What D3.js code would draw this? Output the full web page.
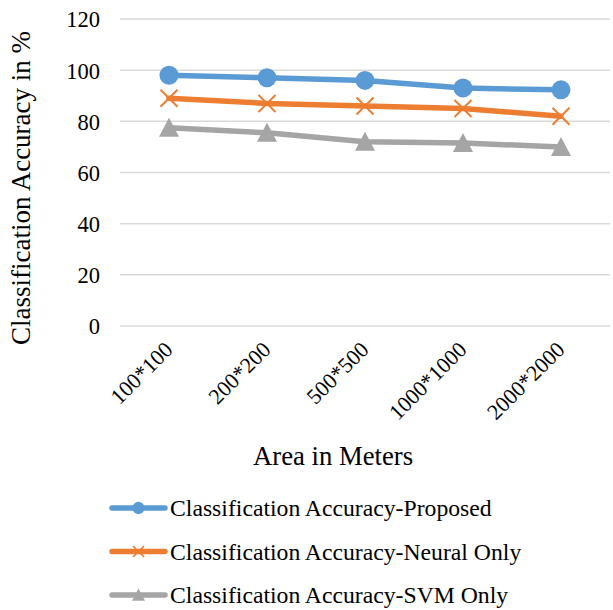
<!DOCTYPE html>
<html><head><meta charset="utf-8">
<script src="https://cdn.jsdelivr.net/npm/d3@7"></script>
<style>body{margin:0;background:#fff}svg{display:block}</style>
</head><body>
<svg id="c" width="613" height="610"></svg>
<script>
const categories = ["100*100","200*200","500*500","1000*1000","2000*2000"];
const proposed = [98, 97, 96, 93, 92.3];
const neural = [89, 87, 86, 85, 82];
const svm = [77.5, 75.5, 72, 71.5, 70];
const yTicks = [0,20,40,60,80,100,120];
const seriesNames = ["Classification Accuracy-Proposed","Classification Accuracy-Neural Only","Classification Accuracy-SVM Only"];
const colors = ["#5B9BD5","#ED7D31","#A5A5A5"];
const markers = ["circle","x","triangle"];
const FONT = '"Liberation Serif", "Times New Roman", serif';

const svg = d3.select("#c");
const x = d3.scaleBand().domain(categories).range([120, 610]);
const y = d3.scaleLinear().domain([0,120]).range([326, 19]);

// gridlines
svg.append("g").selectAll("line").data(yTicks).join("line")
  .attr("x1",120).attr("x2",610).attr("y1",d=>y(d)).attr("y2",d=>y(d))
  .attr("stroke","#D9D9D9").attr("stroke-width",1.5);

// y axis labels
const yAxis = d3.axisLeft(y).tickValues(yTicks).tickSize(0).tickPadding(0);
const yg = svg.append("g").attr("transform","translate(100,0)").call(yAxis);
yg.select(".domain").remove();
yg.selectAll("text").style("font-family",FONT).style("font-size","22.5px").attr("fill","#000").attr("dy","0.35em");

// x axis labels
const xAxis = d3.axisBottom(x).tickSize(0).tickPadding(0);
const xg = svg.append("g").attr("transform","translate(0,351)").call(xAxis);
xg.select(".domain").remove();
xg.selectAll("text").style("font-family",FONT).style("font-size","22px").attr("fill","#000")
  .attr("text-anchor","end").attr("dy",0).attr("y",0)
  .attr("transform","translate(5,0) rotate(-45)");

// axis titles
svg.append("text").attr("transform","translate(29.5,188) rotate(-90)").attr("text-anchor","middle")
  .style("font-family",FONT).style("font-size","27px").attr("fill","#000").text("Classification Accuracy in %");
svg.append("text").attr("x",333).attr("y",465).attr("text-anchor","middle")
  .style("font-family",FONT).style("font-size","26.7px").attr("fill","#000").text("Area in Meters");

const cx = d => x(d) + x.bandwidth()/2;
const data = [proposed, neural, svm];

function drawMarker(g, type, color, px, py, k){
  if(type==="circle"){
    g.append("circle").attr("cx",px).attr("cy",py).attr("r",9.5*k).attr("fill",color);
  } else if(type==="x"){
    const s=8.5*k;
    g.append("path").attr("d",`M${px-s},${py-s}L${px+s},${py+s}M${px-s},${py+s}L${px+s},${py-s}`)
      .attr("stroke",color).attr("stroke-width",2*Math.max(k,0.8)).attr("fill","none");
  } else {
    const s=10*k;
    g.append("path").attr("d",`M${px},${py-s}L${px+s},${py+s*0.9}L${px-s},${py+s*0.9}Z`).attr("fill",color);
  }
}

data.forEach((vals,i)=>{
  const g = svg.append("g");
  const line = d3.line().x((d,j)=>cx(categories[j])).y(d=>y(d));
  g.append("path").attr("d",line(vals)).attr("fill","none").attr("stroke",colors[i])
    .attr("stroke-width",5.5).attr("stroke-linejoin","round").attr("stroke-linecap","round");
  vals.forEach((v,j)=>drawMarker(g, markers[i], colors[i], cx(categories[j]), y(v), 1));
});

// legend
const legY = [508, 551.5, 595];
seriesNames.forEach((n,i)=>{
  const g = svg.append("g");
  g.append("line").attr("x1",112).attr("x2",165).attr("y1",legY[i]).attr("y2",legY[i])
    .attr("stroke",colors[i]).attr("stroke-width",5.5).attr("stroke-linecap","round");
  drawMarker(g, markers[i], colors[i], 138.5, legY[i], 0.65);
  g.append("text").attr("x",170).attr("y",legY[i]).attr("dy","0.35em")
    .style("font-family",FONT).style("font-size","23.7px").attr("fill","#000").text(n);
});
</script>
</body></html>
